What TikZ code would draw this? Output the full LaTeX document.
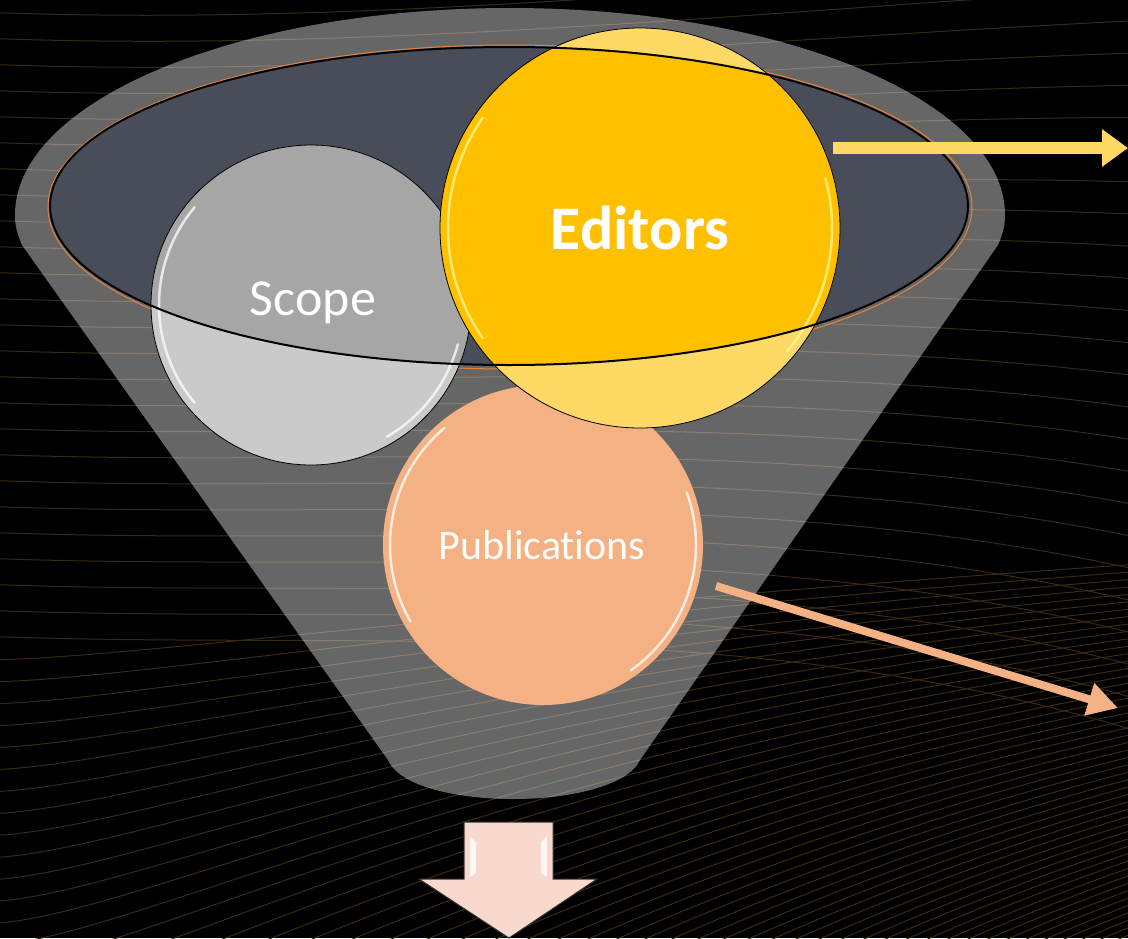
\documentclass[tikz,border=0pt]{standalone}
\usepackage{fontspec}
\newfontfamily\carl[Ligatures=NoCommon,RawFeature={-liga;-clig;-dlig}]{Carlito}
\usetikzlibrary{arrows.meta,calc}
\definecolor{bglc}{RGB}{58,42,20}
\definecolor{mouth}{RGB}{70,74,88}
\definecolor{scopeL}{RGB}{202,202,202}
\definecolor{scopeD}{RGB}{166,166,166}
\definecolor{editL}{RGB}{255,217,102}
\definecolor{editD}{RGB}{255,192,0}
\definecolor{pubc}{RGB}{244,177,131}
\definecolor{downc}{RGB}{249,216,206}
\definecolor{rimc}{RGB}{230,130,60}
\tikzset{
  bgl/.style={draw=bglc, line width=1pt},
  bubble/.style={circle, draw=none, inner sep=0pt},
  gloss/.style={draw=white, line width=2.5pt, opacity=0.75, line cap=round},
  lbl/.style={text=white, inner sep=0pt},
}
\begin{document}
\begin{tikzpicture}[x=1pt,y=-1pt]
\fill[black] (0,0) rectangle (1128,938);
\useasboundingbox (0,0) rectangle (1128,938);
% background flow lines
\begin{scope}
\clip (0,0) rectangle (1128,938);
\foreach \s in {12,38,...,640}
  \draw[bgl] (-20,\s) .. controls (350,{\s+15}) and (750,{\s-25}) .. (1150,{1.25*\s-60});
\foreach \s in {660,682,...,1900}
  \draw[bgl] (-20,\s) .. controls (120,\s) and (420,{0.55*\s+250}) .. (1150,{560+0.33*(\s-650)});
\end{scope}
% funnel body
\fill[white, opacity=0.4] (15,215) .. controls (15,101) and (237,8) .. (510,8)
  .. controls (783,8) and (1005,101) .. (1005,215) .. controls (1005,228) and (1002,235) .. (998,245) -- (640,760)
  .. controls (615,812) and (410,812) .. (388,760) -- (22,245) .. controls (18,235) and (15,228) .. cycle;
% funnel mouth
\fill[mouth, opacity=0.9] (509,206) ellipse [x radius=459, y radius=159];
\draw[rimc, line width=1pt] (510,207) ellipse [x radius=462, y radius=162];
% circles
\node[bubble, fill=pubc, minimum size=320pt] (pub) at (543,545) {};
\node[bubble, fill=scopeL, minimum size=320pt] (scope) at (311,305) {};
\begin{scope}
\clip (509,206) ellipse [x radius=459, y radius=159];
\fill[scopeD] (scope.center) circle [radius=160];
\end{scope}
\draw[black, line width=0.8pt] (scope.center) circle [radius=160];
\draw[gloss] ($(scope.center)+(140:152)$) arc[start angle=140, end angle=220, radius=152];
\draw[gloss] ($(scope.center)+(15:152)$) arc[start angle=15, end angle=60, radius=152];
\node[bubble, fill=editL, minimum size=400pt] (editors) at (640,228) {};
\begin{scope}
\clip (509,206) ellipse [x radius=459, y radius=159];
\fill[editD] (editors.center) circle [radius=200];
\end{scope}
\draw[black, line width=0.8pt] (editors.center) circle [radius=200];
\draw[gloss, draw=yellow!40] ($(editors.center)+(145:192)$) arc[start angle=145, end angle=215, radius=192];
\draw[gloss, draw=yellow!40] ($(editors.center)+(-15:192)$) arc[start angle=-15, end angle=40, radius=192];
\draw[gloss] ($(pub.center)+(150:153)$) arc[start angle=150, end angle=230, radius=153];
\draw[gloss] ($(pub.center)+(-20:153)$) arc[start angle=-20, end angle=55, radius=153];
% mouth outline
\draw[black, line width=2pt] (509,206) ellipse [x radius=459, y radius=159];
% labels
\node[lbl, font=\carl\fontsize{52}{60}\selectfont] at (313,303) {Scope};
\node[lbl, font=\carl\bfseries\fontsize{62}{70}\selectfont] at (640,228) {Editors};
\node[lbl, font=\carl\fontsize{42}{50}\selectfont] at (542,545) {Publications};
% arrows
\coordinate (ya) at (833,148);
\coordinate (yb) at (1128,148);
\draw[editL, line width=12pt, -{Triangle[length=26pt,width=36pt]}] (ya) -- (yb);
\coordinate (pa) at (716,586);
\coordinate (pb) at (1118,708);
\draw[pubc, line width=8pt, -{Triangle[length=30pt,width=32pt]}] (pa) -- (pb);
% down block arrow
\draw[fill=downc, draw=black!80, line width=1pt]
  (464,822) -- (553,822) -- (553,879) -- (597,879) -- (509,938) -- (419,879) -- (464,879) -- cycle;
\fill[white, opacity=0.8] (470,836) -- (476,842) -- (476,873) -- (470,877) -- cycle;
\fill[white, opacity=0.8] (547,836) -- (541,842) -- (541,873) -- (547,877) -- cycle;
\end{tikzpicture}
\end{document}
